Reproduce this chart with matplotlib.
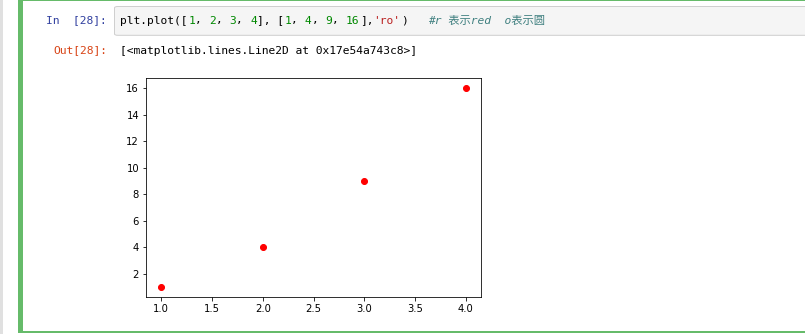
import matplotlib.pyplot as plt
from matplotlib.patches import Rectangle, FancyBboxPatch

# data shown in the notebook cell
xs = [1, 2, 3, 4]
ys = [1, 4, 9, 16]
fmt = 'ro'
cell_no = 28
comment = '#r 表示red  o表示圆'
out_repr = '[<matplotlib.lines.Line2D at 0x17e54a743c8>]'

W, H = 805, 334
fig = plt.figure(figsize=(W / 72, H / 72), dpi=72)
fig.patch.set_facecolor('white')


def fx(px):
    return px / W


def fy(py):
    # py measured from the top of the image
    return 1 - py / H


# notebook chrome: grey gutter, green selected-cell border, input box
fig.add_artist(Rectangle((0, 0), fx(3), 1, transform=fig.transFigure,
                         facecolor='#e0e0e0', edgecolor='none'))
fig.add_artist(Rectangle((fx(18), fy(333)), fx(5), fy(0) - fy(333),
                         transform=fig.transFigure, facecolor='#66bb6a', edgecolor='none'))
fig.add_artist(Rectangle((fx(18), fy(1.3)), 1, fy(0) - fy(1.3),
                         transform=fig.transFigure, facecolor='#66bb6a', edgecolor='none'))
fig.add_artist(Rectangle((fx(18), fy(332.8)), 1, fy(331) - fy(332.8),
                         transform=fig.transFigure, facecolor='#66bb6a', edgecolor='none'))
fig.add_artist(FancyBboxPatch((fx(114.5), fy(35.3)), fx(720), fy(6.5) - fy(35.3),
                              boxstyle='round,pad=0,rounding_size=0.004',
                              transform=fig.transFigure, facecolor='#f5f5f5',
                              edgecolor='#cfcfcf', linewidth=1))

mono = ['DejaVu Sans Mono', 'Noto Sans CJK SC']
fs = 11.3
cw = 6.85  # pixel width of one monospace character

fig.text(fx(107), fy(20.5), 'In  [%d]:' % cell_no, ha='right', va='center',
         family=mono, fontsize=fs, color='#303f9f')
fig.text(fx(107), fy(50.5), 'Out[%d]:' % cell_no, ha='right', va='center',
         family=mono, fontsize=fs, color='#d84315')

# code line, coloured piece by piece
pieces = [('plt.plot([', 'black')]
for i, v in enumerate(xs):
    pieces.append((str(v), '#008800'))
    pieces.append((', ' if i < len(xs) - 1 else '], [', 'black'))
for i, v in enumerate(ys):
    pieces.append((str(v), '#008800'))
    pieces.append((', ' if i < len(ys) - 1 else '],', 'black'))
pieces.append(("'%s'" % fmt, '#ba2121'))
pieces.append((')', 'black'))

x0 = 120
n = 0
for s, c in pieces:
    fig.text(fx(x0 + n * cw), fy(20.5), s, ha='left', va='center',
             family=mono, fontsize=fs, color=c)
    n += len(s)
fig.text(fx(x0 + (n + 3) * cw), fy(20.5), comment, ha='left', va='center',
         family=mono, fontsize=fs, color='#408080', style='italic')

fig.text(fx(x0), fy(50.5), out_repr, ha='left', va='center',
         family=mono, fontsize=fs, color='black')

# the plot itself
ax = fig.add_axes([fx(146), fy(296.7), fx(481) - fx(146), fy(78.3) - fy(296.7)])
ax.plot(xs, ys, fmt)
ax.tick_params(labelsize=10)

fig.savefig('out.png', dpi=72)
